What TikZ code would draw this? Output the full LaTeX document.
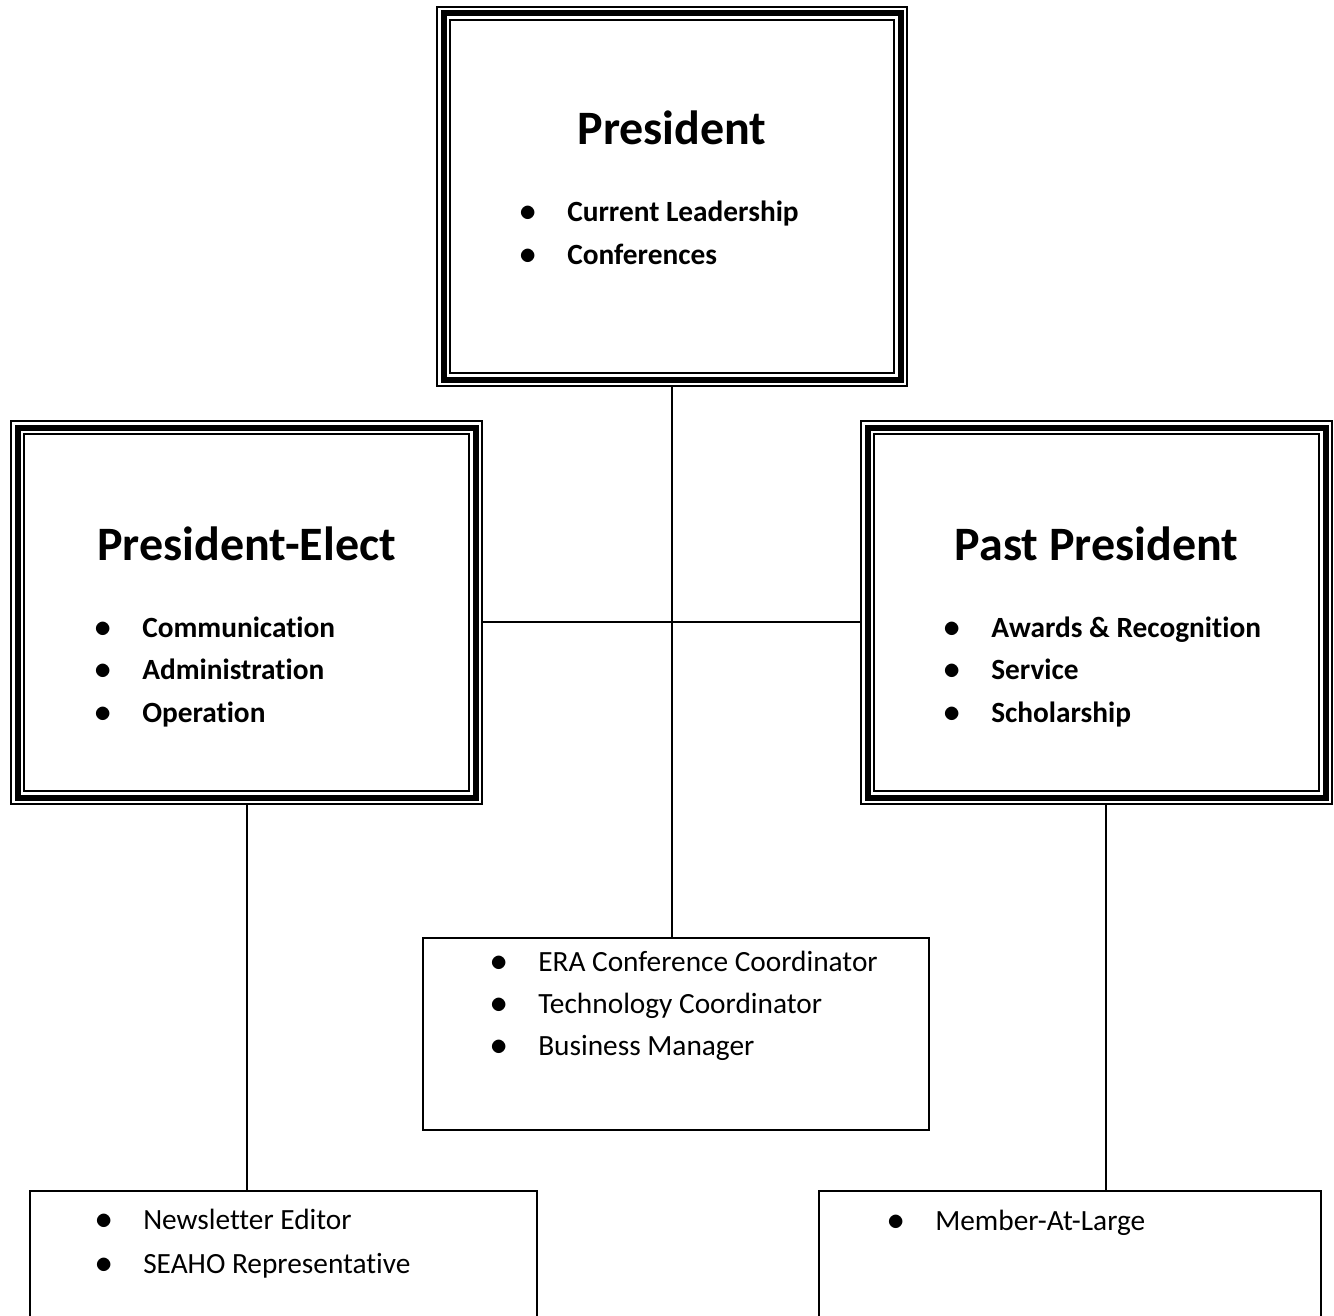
\documentclass[tikz,border=0pt]{standalone}
\usepackage{fix-cm}
\usepackage{fontspec}
\setmainfont{Carlito}[RawFeature={-liga;-clig;-calt;-rlig;-dlig}]
\tikzset{
  tripleframe/.style={draw=black, line width=11.25pt, inner sep=0pt,
    postaction={draw=white, line width=8.25pt},
    postaction={draw=black, line width=4.5pt}},
  plainbox/.style={draw=black, line width=1.5pt, inner sep=0pt},
  link/.style={draw=black, line width=1.5pt},
  title/.style={anchor=base, inner sep=0pt, font=\fontsize{36}{42}\selectfont\bfseries},
  entry/.style={anchor=base west, inner sep=0pt, font=\fontsize{22}{26}\selectfont,
    execute at begin node={\makebox[34.5pt][l]{\hspace{-1pt}{\fontsize{26}{26}\selectfont$\bullet$}}}},
  boldentry/.style={entry, font=\fontsize{22}{26}\selectfont\bfseries}
}
\begin{document}
\begin{tikzpicture}[x=0.75pt, y=-0.75pt]
      \useasboundingbox (0,0) rectangle (1334,1316);
      \clip (0,0) rectangle (1334,1316);
      % officers
      \node[tripleframe, minimum width=342.75pt, minimum height=274.5pt] (pres) at (672,196.5) {};
      \node[tripleframe, minimum width=343.5pt, minimum height=277.5pt] (elect) at (246.5,612.5) {};
      \node[tripleframe, minimum width=343.5pt, minimum height=277.5pt] (past) at (1096.5,612.5) {};
      % appointed positions
      \node[plainbox, minimum width=379.5pt, minimum height=144pt] (staff) at (676,1034) {};
      \node[plainbox, minimum width=380.25pt, minimum height=104.25pt] (news) at (283.5,1260.5) {};
      \node[plainbox, minimum width=376.5pt, minimum height=104.25pt] (members) at (1070,1260.5) {};
      \node[title] (pres-t) at (672,145) {President};
      \foreach \txt [count=\i] in {Current Leadership, Conferences}
        \node[boldentry] (pres-\i) at (521,179+43*\i) {\txt};
      \node[title] (elect-t) at (246.5,560) {President-Elect};
      \foreach \txt [count=\i] in {Communication, Administration, Operation}
        \node[boldentry] (elect-\i) at (96,594.5+42.5*\i) {\txt};
      \node[title] (past-t) at (1096.5,560) {Past President};
      \foreach \txt [count=\i] in {Awards \& Recognition, Service, Scholarship}
        \node[boldentry] (past-\i) at (945,594.5+42.5*\i) {\txt};
      \foreach \txt [count=\i] in {ERA Conference Coordinator, Technology Coordinator, Business Manager}
        \node[entry] (staff-\i) at (492,929+42*\i) {\txt};
      \foreach \txt [count=\i] in {Newsletter Editor, SEAHO Representative}
        \node[entry] (news-\i) at (97,1185+44*\i) {\txt};
      \node[entry] (members-1) at (889,1230) {Member-At-Large};
      % lines
      \coordinate (hub) at (672,622);
      \draw[link] (pres.south) -- (pres.south |- staff.north);
      \draw[link] (elect.east |- hub) -- (past.west |- hub);
      \draw[link] (elect.south) -- (elect.south |- news.north);
      \draw[link] ([xshift=7.1pt]past.south) -- ([xshift=7.1pt]past.south |- members.north);
    \end{tikzpicture}
\end{document}
